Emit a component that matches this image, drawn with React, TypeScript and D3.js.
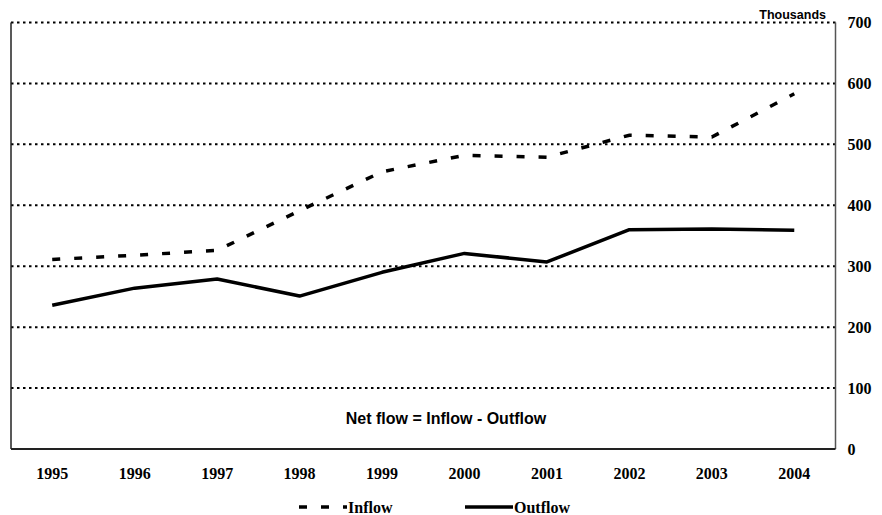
import React, { useRef, useEffect } from 'react';
import * as d3 from 'd3';

const years = ['1995', '1996', '1997', '1998', '1999', '2000', '2001', '2002', '2003', '2004'];
const inflow = [311, 318, 326, 391, 455, 482, 479, 515, 512, 583];
const outflow = [236, 264, 279, 251, 290, 321, 307, 360, 361, 359];
const yTicks = [0, 100, 200, 300, 400, 500, 600, 700];

const FlowChart = () => {
  const chartRef = useRef(null);

  useEffect(() => {
    const width = 882;
    const height = 515;
    const left = 11;
    const right = 835.5;
    const top = 22.5;
    const bottom = 449;

    d3.select(chartRef.current).select('svg').remove();

    const svg = d3.select(chartRef.current)
      .append('svg')
      .attr('width', width)
      .attr('height', height)
      .style('display', 'block');

    svg.append('rect')
      .attr('width', width)
      .attr('height', height)
      .attr('fill', '#fff');

    const x = d3.scaleBand()
      .domain(years)
      .range([left, right]);

    const y = d3.scaleLinear()
      .domain([0, 700])
      .range([bottom, top]);

    // dotted gridlines
    svg.append('g')
      .selectAll('line')
      .data(yTicks.filter(d => d > 0))
      .enter()
      .append('line')
      .attr('x1', left)
      .attr('x2', right)
      .attr('y1', d => y(d))
      .attr('y2', d => y(d))
      .attr('stroke', '#000')
      .attr('stroke-width', 2)
      .attr('stroke-dasharray', '2.5,3.5');

    // frame
    svg.append('line')
      .attr('x1', left).attr('x2', left)
      .attr('y1', y(700)).attr('y2', bottom)
      .attr('stroke', '#222').attr('stroke-width', 1.5);
    svg.append('line')
      .attr('x1', right).attr('x2', right)
      .attr('y1', y(700)).attr('y2', bottom)
      .attr('stroke', '#555').attr('stroke-width', 1.5);
    svg.append('line')
      .attr('x1', left).attr('x2', right)
      .attr('y1', bottom).attr('y2', bottom)
      .attr('stroke', '#222').attr('stroke-width', 2);

    // right axis labels
    const yAxis = svg.append('g')
      .attr('transform', `translate(${right + 12},0)`)
      .call(d3.axisRight(y).tickValues(yTicks).tickSize(0).tickPadding(0));
    yAxis.select('.domain').remove();
    yAxis.selectAll('text')
      .attr('font-family', '"Liberation Serif", "Times New Roman", serif')
      .attr('font-weight', 'bold')
      .attr('font-size', 16)
      .attr('fill', '#000');

    // x labels
    const xAxis = svg.append('g')
      .attr('transform', `translate(0,${bottom + 19})`)
      .call(d3.axisBottom(x).tickSize(0).tickPadding(0));
    xAxis.select('.domain').remove();
    xAxis.selectAll('text')
      .attr('font-family', '"Liberation Serif", "Times New Roman", serif')
      .attr('font-weight', 'bold')
      .attr('font-size', 16)
      .attr('fill', '#000');

    svg.append('text')
      .attr('x', 826)
      .attr('y', 19)
      .attr('text-anchor', 'end')
      .attr('font-family', '"Liberation Sans", Arial, sans-serif')
      .attr('font-weight', 'bold')
      .attr('font-size', 12.5)
      .text('Thousands');

    svg.append('text')
      .attr('x', 446)
      .attr('y', 424)
      .attr('text-anchor', 'middle')
      .attr('font-family', '"Liberation Sans", Arial, sans-serif')
      .attr('font-weight', 'bold')
      .attr('font-size', 16)
      .text('Net flow = Inflow - Outflow');

    const line = d3.line()
      .x((d, i) => x(years[i]) + x.bandwidth() / 2)
      .y(d => y(d));

    svg.append('path')
      .datum(inflow)
      .attr('d', line)
      .attr('fill', 'none')
      .attr('stroke', '#000')
      .attr('stroke-width', 3.5)
      .attr('stroke-dasharray', '8,14');

    svg.append('path')
      .datum(outflow)
      .attr('d', line)
      .attr('fill', 'none')
      .attr('stroke', '#000')
      .attr('stroke-width', 3.5)
      .attr('stroke-linejoin', 'round');

    // legend
    const legendY = 507;
    const legend = [
      { label: 'Inflow', x0: 299, dash: '8,14' },
      { label: 'Outflow', x0: 465, dash: null },
    ];
    const items = svg.append('g')
      .selectAll('g')
      .data(legend)
      .enter()
      .append('g');
    items.append('line')
      .attr('x1', d => d.x0)
      .attr('x2', d => d.x0 + 48)
      .attr('y1', legendY)
      .attr('y2', legendY)
      .attr('stroke', '#000')
      .attr('stroke-width', 3.5)
      .attr('stroke-dasharray', d => d.dash);
    items.append('text')
      .attr('x', d => d.x0 + 49)
      .attr('y', legendY + 6)
      .attr('font-family', '"Liberation Serif", "Times New Roman", serif')
      .attr('font-weight', 'bold')
      .attr('font-size', 16)
      .text(d => d.label);
  }, []);

  return (
    <div ref={chartRef} style={{ position: 'absolute', left: 0, top: 0 }} />
  );
};

export default function App() {
  return <FlowChart />;
}
